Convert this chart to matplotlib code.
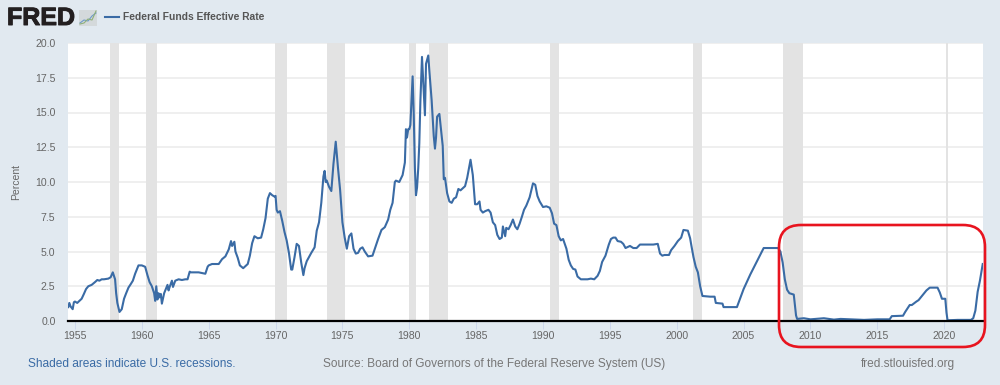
import matplotlib
matplotlib.use("Agg")
import matplotlib.pyplot as plt
import matplotlib.patheffects as pe
from matplotlib.lines import Line2D
from matplotlib.patches import FancyBboxPatch, Rectangle

plt.rcParams["font.family"] = ["Liberation Sans", "DejaVu Sans"]

# year, percent pairs
rate_dates = [
    1954.5, 1954.58, 1954.67, 1954.83, 1954.92, 1955.0, 1955.17, 1955.33, 1955.5, 1955.67, 1955.83,
    1956.0, 1956.25, 1956.5, 1956.67, 1956.83, 1957.0, 1957.17, 1957.5, 1957.67, 1957.83, 1958.0,
    1958.08, 1958.17, 1958.33, 1958.5, 1958.67, 1958.83, 1959.0, 1959.17, 1959.33, 1959.5, 1959.75,
    1960.0, 1960.25, 1960.42, 1960.58, 1960.75, 1960.92, 1961.0, 1961.08, 1961.17, 1961.25, 1961.33,
    1961.42, 1961.5, 1961.67, 1961.92, 1962.0, 1962.08, 1962.25, 1962.33, 1962.5, 1962.75, 1963.0,
    1963.25, 1963.42, 1963.58, 1963.67, 1964.0, 1964.25, 1964.5, 1964.75, 1964.92, 1965.0, 1965.25,
    1965.5, 1965.75, 1966.0, 1966.25, 1966.5, 1966.67, 1966.75, 1966.92, 1967.0, 1967.17, 1967.33,
    1967.58, 1967.75, 1967.92, 1968.08, 1968.25, 1968.42, 1968.67, 1968.92, 1969.08, 1969.25, 1969.42,
    1969.58, 1969.75, 1969.92, 1970.0, 1970.08, 1970.17, 1970.33, 1970.5, 1970.67, 1970.83, 1971.0,
    1971.17, 1971.25, 1971.42, 1971.58, 1971.75, 1971.92, 1972.08, 1972.17, 1972.33, 1972.5, 1972.67,
    1972.92, 1973.08, 1973.25, 1973.42, 1973.58, 1973.67, 1973.75, 1973.83, 1974.0, 1974.17, 1974.33,
    1974.5, 1974.67, 1974.83, 1975.0, 1975.17, 1975.33, 1975.5, 1975.67, 1975.83, 1976.0, 1976.17,
    1976.33, 1976.5, 1976.67, 1976.92, 1977.25, 1977.5, 1977.67, 1977.92, 1978.17, 1978.42, 1978.58,
    1978.75, 1978.92, 1979.0, 1979.25, 1979.5, 1979.67, 1979.75, 1979.83, 1979.92, 1980.0, 1980.08,
    1980.25, 1980.33, 1980.42, 1980.5, 1980.58, 1980.67, 1980.75, 1980.83, 1980.95, 1981.08, 1981.17,
    1981.25, 1981.42, 1981.5, 1981.67, 1981.83, 1981.92, 1982.0, 1982.08, 1982.25, 1982.33, 1982.5,
    1982.58, 1982.67, 1982.83, 1983.0, 1983.17, 1983.33, 1983.5, 1983.67, 1983.83, 1984.0, 1984.17,
    1984.33, 1984.58, 1984.75, 1984.92, 1985.08, 1985.25, 1985.33, 1985.5, 1985.67, 1985.92, 1986.08,
    1986.25, 1986.42, 1986.58, 1986.75, 1986.92, 1987.0, 1987.17, 1987.25, 1987.42, 1987.58, 1987.75,
    1987.92, 1988.08, 1988.25, 1988.42, 1988.58, 1988.75, 1989.0, 1989.25, 1989.42, 1989.58, 1989.75,
    1990.0, 1990.25, 1990.5, 1990.67, 1990.83, 1991.0, 1991.17, 1991.33, 1991.5, 1991.75, 1991.92,
    1992.08, 1992.25, 1992.42, 1992.58, 1992.83, 1993.08, 1993.33, 1993.58, 1993.83, 1994.08, 1994.25,
    1994.42, 1994.67, 1994.92, 1995.08, 1995.25, 1995.42, 1995.58, 1995.83, 1996.0, 1996.17, 1996.5,
    1996.75, 1997.0, 1997.25, 1997.75, 1998.25, 1998.58, 1998.75, 1998.92, 1999.08, 1999.42, 1999.58,
    1999.83, 2000.08, 2000.33, 2000.5, 2000.83, 2001.0, 2001.08, 2001.25, 2001.42, 2001.58, 2001.75,
    2001.92, 2002.5, 2002.83, 2002.92, 2003.42, 2003.5, 2004.42, 2004.5, 2005.0, 2005.5, 2006.0,
    2006.5, 2007.58, 2007.75, 2007.92, 2008.08, 2008.25, 2008.42, 2008.75, 2008.92, 2009.0, 2009.5,
    2010.0, 2011.0, 2011.75, 2012.25, 2013.0, 2014.0, 2015.0, 2015.92, 2016.08, 2016.92, 2017.08,
    2017.25, 2017.42, 2017.58, 2017.92, 2018.08, 2018.25, 2018.42, 2018.67, 2018.92, 2019.0, 2019.5,
    2019.67, 2019.83, 2020.08, 2020.17, 2020.25, 2021.0, 2022.0, 2022.17, 2022.33, 2022.5, 2022.67,
    2022.88,
]
rate_values = [
    1.0, 1.3, 1.05, 0.85, 1.35, 1.4, 1.3, 1.45, 1.6, 1.95, 2.3,
    2.5, 2.6, 2.8, 2.95, 2.9, 3.0, 3.0, 3.05, 3.15, 3.5, 3.0,
    2.0, 1.3, 0.65, 0.85, 1.6, 2.0, 2.4, 2.65, 2.9, 3.4, 4.0,
    4.0, 3.9, 3.3, 2.8, 2.5, 2.0, 1.45, 2.5, 1.55, 2.0, 1.7,
    1.95, 1.25, 2.0, 2.6, 2.2, 2.45, 2.9, 2.45, 2.9, 3.0, 2.95,
    3.0, 3.0, 3.55, 3.5, 3.5, 3.5, 3.45, 3.4, 3.9, 4.0, 4.1,
    4.1, 4.1, 4.45, 4.65, 5.15, 5.75, 5.4, 5.7, 5.0, 4.55, 4.0,
    3.8, 3.95, 4.1, 4.7, 5.6, 6.1, 5.95, 6.0, 6.6, 7.4, 8.8,
    9.2, 9.05, 8.95, 9.0, 8.0, 7.8, 7.9, 7.2, 6.4, 5.8, 4.9,
    3.7, 3.7, 4.6, 5.55, 5.4, 4.2, 3.3, 3.8, 4.3, 4.6, 4.9,
    5.3, 6.5, 7.1, 8.5, 10.4, 10.8, 10.0, 10.1, 9.65, 9.35, 11.3,
    12.9, 11.0, 9.4, 7.1, 6.0, 5.2, 6.1, 6.3, 5.2, 4.85, 4.9,
    5.2, 5.3, 5.0, 4.65, 4.7, 5.4, 5.9, 6.55, 6.75, 7.3, 8.0,
    8.5, 10.0, 10.1, 10.0, 10.5, 11.4, 13.8, 13.2, 13.8, 13.8, 14.1,
    17.6, 15.0, 11.0, 9.05, 9.6, 11.0, 12.8, 15.8, 19.0, 16.5, 14.8,
    18.5, 19.1, 18.0, 15.9, 13.3, 12.4, 13.2, 14.7, 14.9, 14.15, 12.6,
    10.2, 10.3, 9.2, 8.6, 8.5, 8.8, 8.9, 9.5, 9.4, 9.55, 9.7,
    10.3, 11.6, 10.5, 8.4, 8.4, 8.6, 8.0, 7.8, 7.9, 8.0, 7.8,
    7.1, 6.9, 6.2, 5.9, 6.0, 6.8, 6.1, 6.7, 6.6, 6.9, 7.3,
    6.8, 6.6, 7.0, 7.5, 8.0, 8.3, 8.9, 9.9, 9.8, 9.0, 8.6,
    8.2, 8.25, 8.15, 7.75, 7.0, 6.9, 6.1, 5.8, 5.9, 5.2, 4.4,
    4.0, 3.75, 3.7, 3.2, 3.0, 3.0, 3.0, 3.05, 3.0, 3.25, 3.6,
    4.25, 4.7, 5.5, 5.9, 6.0, 6.0, 5.75, 5.7, 5.55, 5.25, 5.4,
    5.25, 5.25, 5.5, 5.5, 5.5, 5.55, 4.85, 4.7, 4.75, 4.75, 5.1,
    5.4, 5.75, 6.0, 6.55, 6.5, 5.95, 5.5, 4.6, 3.9, 3.5, 2.5,
    1.8, 1.75, 1.75, 1.3, 1.25, 1.0, 1.0, 1.0, 2.3, 3.35, 4.3,
    5.25, 5.25, 5.0, 4.2, 3.0, 2.25, 2.0, 1.9, 0.4, 0.15, 0.2,
    0.12, 0.2, 0.1, 0.15, 0.12, 0.08, 0.12, 0.12, 0.35, 0.38, 0.65,
    0.9, 1.15, 1.15, 1.4, 1.5, 1.7, 1.9, 2.2, 2.4, 2.4, 2.4,
    2.05, 1.6, 1.6, 0.6, 0.05, 0.08, 0.08, 0.2, 0.75, 2.1, 2.9,
    4.1,
]
rec_start = [1957.6, 1960.3, 1969.95, 1973.87, 1980.0, 1981.5, 1990.55, 2001.2, 2007.95, 2020.1]
rec_end = [1958.3, 1961.1, 1970.85, 1975.2, 1980.5, 1982.87, 1991.2, 2001.87, 2009.47, 2020.3]
y_ticks = [0, 2.5, 5, 7.5, 10, 12.5, 15, 17.5, 20]
x_ticks = list(range(1955, 2025, 5))

BG = "#E1E9F0"
BLUE = "#3A6BA5"
GRAY = "#666666"

fig = plt.figure(figsize=(10, 3.85), dpi=100, facecolor=BG)
ax = fig.add_axes([68 / 1000, 64 / 385, 915 / 1000, 278 / 385])
ax.set_xlim(1954.48, 2022.9)
ax.set_ylim(0, 20)

for a, b in zip(rec_start, rec_end):
    ax.axvspan(a, b, color="#E3E3E3", lw=0, zorder=1)
ax.grid(axis="y", color="#EBEBEB", lw=1.1, zorder=2)
ax.set_axisbelow(True)
ax.plot(rate_dates, rate_values, color=BLUE, lw=1.5, zorder=3, solid_joinstyle="round")

for s in ["top", "left", "right"]:
    ax.spines[s].set_visible(False)
ax.spines["bottom"].set_color("black")
ax.spines["bottom"].set_linewidth(1.6)
ax.spines["bottom"].set_zorder(4)

ax.set_yticks(y_ticks, [f"{v:.1f}" for v in y_ticks])
ax.set_xticks(x_ticks, [str(v) for v in x_ticks])
ax.tick_params(axis="y", length=0, pad=9, labelsize=7.6, labelcolor=GRAY)
ax.tick_params(axis="x", length=6, width=0.7, color="#CCD6EB", pad=1.5, labelsize=7.6, labelcolor=GRAY)

px = fig.transFigure


def fx(v):
    return v / 1000


def fy(v):
    return 1 - v / 385


fig.text(fx(16), fy(182), "Percent", rotation=90, ha="center", va="center", fontsize=7.5, color=GRAY)

# header
logo = fig.text(fx(7), fy(18), "FRED", ha="left", va="center", fontsize=18, fontweight="bold", color="#231F20")
logo.set_path_effects([pe.withStroke(linewidth=0.7, foreground="#231F20")])
fig.add_artist(Rectangle((fx(79), fy(26)), 18 / 1000, 16 / 385, color="#D4D9DB", lw=0, transform=px))
fig.add_artist(Line2D([fx(v) for v in (80, 84, 88, 92, 96)], [fy(v) for v in (23, 20, 21, 16, 13)],
                      color="#6F9BC8", lw=0.8, transform=px))
fig.add_artist(Line2D([fx(v) for v in (80, 84, 88, 92, 96)], [fy(v) for v in (24, 23, 19, 20, 11)],
                      color="#8FB07A", lw=0.8, transform=px))
fig.add_artist(Line2D([fx(105), fx(119)], [fy(17), fy(17)], color=BLUE, lw=1.5, transform=px))
fig.text(fx(123), fy(17), "Federal Funds Effective Rate", ha="left", va="center", fontsize=7.4,
         fontweight="bold", color="#555555")

# footer
fig.text(fx(28), fy(364), "Shaded areas indicate U.S. recessions.", ha="left", va="center", fontsize=8.6, color=BLUE)
fig.text(fx(323), fy(364), "Source: Board of Governors of the Federal Reserve System (US)", ha="left", va="center",
         fontsize=8.55, color="#777777")
fig.text(fx(861), fy(364), "fred.stlouisfed.org", ha="left", va="center", fontsize=8.6, color="#777777")

# red highlight box, in pixel coordinates
box = FancyBboxPatch((779 + 22, 385 - 347 + 22), 206 - 44, 122 - 44,
                     boxstyle="round,pad=22,rounding_size=22",
                     transform=None, fill=False, edgecolor="#E8141F", lw=1.9, zorder=10)
fig.add_artist(box)

fig.savefig("out.png", dpi=100, facecolor=BG)
